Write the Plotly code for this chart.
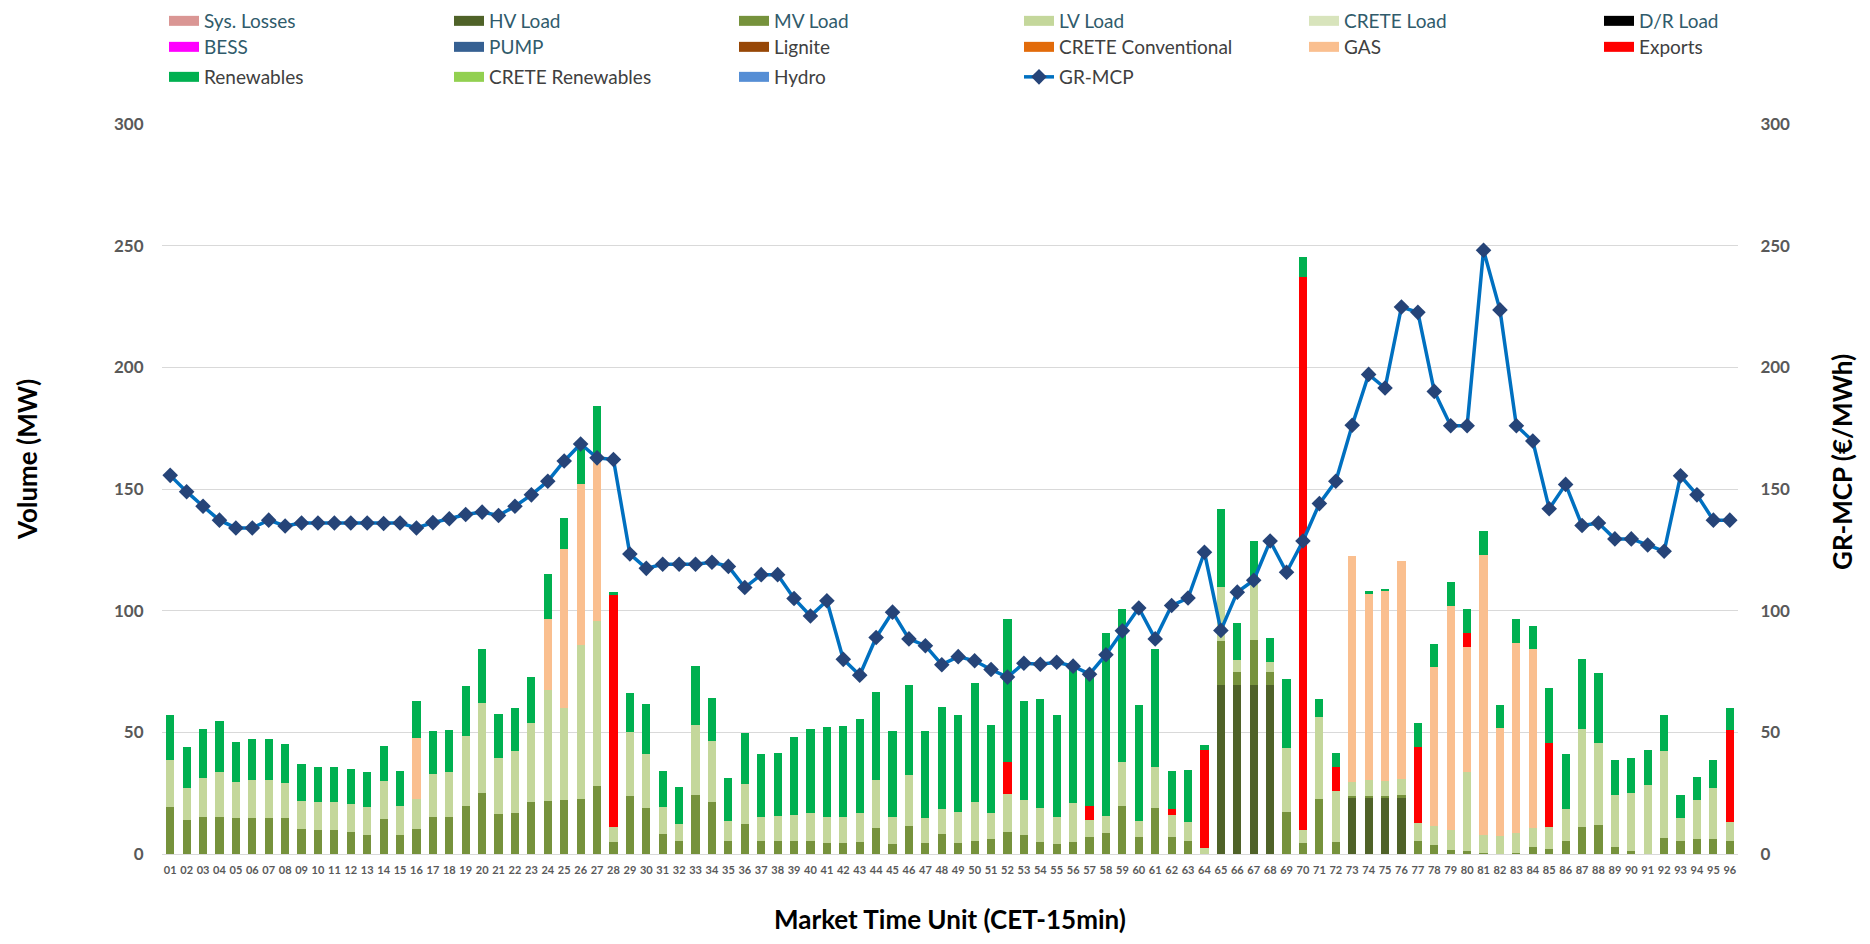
import plotly.graph_objects as go

mtu = [f"{i:02d}" for i in range(1, 97)]

sys_losses = [0.0] * 96
crete_load = [0.0] * 96
dr_load = [0.0] * 96
bess = [0.0] * 96
pump = [0.0] * 96
lignite = [0.0] * 96
crete_conv = [0.0] * 96
crete_ren = [0.0] * 96
hydro = [0.0] * 96

hv_load = [0.0] * 96
for k, v in {65: 69.6, 66: 69.6, 67: 69.6, 68: 69.6, 73: 23.3, 74: 23.3, 75: 23.3, 76: 22.9}.items():
    hv_load[k - 1] = v

mv_load = [19.4, 13.9, 15.3, 15.1, 14.7, 14.7, 14.7, 14.7, 10.2, 10.0,
           10.0, 9.0, 8.0, 14.5, 8.0, 10.4, 15.3, 15.1, 19.6, 25.1,
           16.3, 16.7, 21.4, 21.8, 22.3, 22.7, 28.0, 5.1, 23.9, 19.0,
           8.4, 5.5, 24.1, 21.4, 5.5, 12.5, 5.3, 5.3, 5.3, 5.5,
           4.5, 4.5, 5.1, 10.6, 4.3, 11.4, 4.5, 8.2, 4.5, 5.3,
           6.1, 9.2, 8.0, 5.1, 4.3, 5.1, 6.9, 8.6, 19.8, 7.1,
           19.0, 7.1, 5.5, 0.0, 17.8, 5.1, 18.4, 5.1, 17.4, 4.7,
           22.5, 5.1, 0.6, 0.6, 0.6, 1.4, 5.5, 3.5, 1.8, 1.4,
           0.4, 0.2, 0.6, 2.9, 2.2, 5.5, 11.2, 12.0, 2.9, 1.4,
           0.0, 6.5, 5.3, 6.1, 6.3, 5.5]

lv_load = [19.4, 13.1, 15.9, 18.4, 14.7, 15.9, 15.7, 14.5, 11.4, 11.2,
           11.2, 11.4, 11.4, 15.3, 11.6, 12.3, 17.6, 18.4, 29.0, 36.8,
           23.3, 25.6, 32.3, 45.8, 37.5, 63.3, 67.6, 6.1, 26.3, 22.2,
           11.0, 7.0, 28.8, 25.2, 8.0, 16.1, 9.8, 10.2, 10.6, 11.4,
           10.8, 10.6, 11.8, 20.0, 10.8, 21.1, 10.2, 10.4, 12.7, 15.9,
           10.8, 15.5, 14.3, 13.9, 10.8, 15.9, 7.0, 6.9, 18.0, 6.6,
           16.9, 8.8, 7.8, 2.5, 22.3, 4.9, 24.7, 4.3, 26.1, 5.3,
           33.7, 20.8, 5.7, 6.5, 6.3, 6.5, 7.2, 7.9, 8.0, 32.1,
           7.6, 7.2, 8.2, 7.7, 8.8, 12.9, 40.3, 33.7, 21.4, 23.7,
           28.2, 35.8, 9.6, 16.2, 20.7, 7.6]

gas = [0.0] * 96
for k, v in {16: 24.9, 24: 28.8, 25: 65.6, 26: 65.9, 27: 66.1, 73: 92.7, 74: 76.8,
             75: 78.0, 76: 89.7, 78: 65.4, 79: 92.3, 80: 51.7, 81: 114.9, 82: 44.3,
             83: 77.8, 84: 73.5}.items():
    gas[k - 1] = v

exports = [0.0] * 96
for k, v in {28: 95.4, 52: 13.1, 57: 5.7, 62: 2.5, 64: 40.4, 70: 227.1, 72: 9.8,
             77: 31.4, 80: 5.7, 85: 34.7, 96: 37.7}.items():
    exports[k - 1] = v

renewables = [18.2, 16.9, 20.3, 21.0, 16.8, 16.6, 16.8, 15.9, 15.2, 14.7,
              14.5, 14.5, 14.5, 14.5, 14.5, 15.3, 17.7, 17.6, 20.4, 22.4,
              17.8, 17.7, 19.2, 18.6, 12.8, 16.5, 22.5, 1.2, 16.0, 20.3,
              14.9, 15.1, 24.3, 17.5, 17.7, 21.2, 25.9, 26.0, 32.1, 34.6,
              36.8, 37.4, 38.4, 36.0, 35.5, 36.9, 35.9, 42.0, 40.0, 49.0,
              36.0, 58.8, 40.4, 44.5, 42.1, 56.0, 54.4, 75.4, 62.7, 47.6,
              48.2, 15.7, 21.4, 1.8, 32.0, 15.4, 15.9, 9.8, 28.4, 8.1,
              7.7, 6.0, 0.0, 0.8, 0.8, 0.0, 9.8, 9.4, 9.6, 9.6,
              9.8, 9.4, 9.8, 9.6, 22.5, 22.6, 28.5, 28.8, 14.3, 14.5,
              14.5, 14.7, 9.4, 9.4, 11.6, 9.4]

gr_mcp = [155.6, 148.9, 142.9, 137.2, 134.0, 134.0, 137.2, 134.8, 136.0, 136.0,
          136.0, 136.0, 136.0, 135.8, 136.0, 134.0, 136.2, 137.8, 139.5, 140.5,
          139.1, 142.9, 147.6, 153.2, 161.5, 168.5, 162.8, 162.1, 123.3, 117.4,
          119.1, 119.1, 119.1, 119.9, 118.2, 109.5, 114.8, 114.8, 105.0, 97.8,
          104.1, 80.0, 73.5, 89.0, 99.4, 88.4, 85.6, 77.8, 81.1, 79.4,
          75.8, 72.7, 78.4, 78.0, 78.8, 77.2, 73.9, 81.9, 91.7, 101.1,
          88.4, 102.1, 105.2, 124.0, 91.9, 107.6, 112.5, 128.6, 115.8, 128.6,
          144.0, 153.2, 176.2, 197.1, 191.5, 224.8, 222.6, 190.1, 176.0, 176.0,
          248.1, 223.6, 176.0, 169.7, 141.9, 151.9, 135.0, 136.0, 129.5, 129.5,
          127.0, 124.4, 155.4, 147.6, 137.2, 137.2]

y_ticks = [0, 50, 100, 150, 200, 250, 300]

TEAL = "#305B6B"
GREY = "#404040"
FONT = "Lato"

# the page body has an 8px margin, so figure coords = screen coords - 8
OFF = 8
W, H = 1870 - 2 * OFF, 944 - 2 * OFF
L, R, T, B = 162 - OFF, 1738 - OFF, 124 - OFF, 854 - OFF
COL0, COLSTEP = 164 - OFF, 287
ROWS = {1: 21 - OFF, 2: 47 - OFF, 3: 77 - OFF}

# (name, values, colour, legend text colour, legend id)
series = [
    ("Sys. Losses", sys_losses, "#DA9694", TEAL, "legend"),
    ("HV Load", hv_load, "#4F6228", TEAL, "legend"),
    ("MV Load", mv_load, "#76923C", TEAL, "legend"),
    ("LV Load", lv_load, "#C4D79B", TEAL, "legend"),
    ("CRETE Load", crete_load, "#D8E4BC", TEAL, "legend"),
    ("D/R Load", dr_load, "#000000", TEAL, "legend2"),
    ("BESS", bess, "#FF00FF", TEAL, "legend3"),
    ("PUMP", pump, "#366092", TEAL, "legend3"),
    ("Lignite", lignite, "#974706", GREY, "legend3"),
    ("CRETE Conventional", crete_conv, "#E26B0A", GREY, "legend3"),
    ("GAS", gas, "#FABF8F", GREY, "legend3"),
    ("Exports", exports, "#FF0000", GREY, "legend4"),
    ("Renewables", renewables, "#00B050", GREY, "legend5"),
    ("CRETE Renewables", crete_ren, "#92D050", GREY, "legend5"),
    ("Hydro", hydro, "#558ED5", GREY, "legend5"),
]

fig = go.Figure()
# stacked bars (legend entries drawn by the swatch traces below)
for name, vals, color, tcol, lg in series:
    fig.add_trace(go.Bar(
        x=mtu, y=vals, name=name, showlegend=False,
        marker=dict(color=color, line=dict(width=0)), yaxis="y",
    ))

# legend swatches: wide colour blocks like the original legend
for name, vals, color, tcol, lg in series:
    fig.add_trace(go.Scatter(
        x=[None], y=[None], mode="lines", name=f"<span style='color:{tcol}'>{name}</span>",
        line=dict(color=color, width=14), legend=lg, hoverinfo="skip",
    ))

fig.add_trace(go.Scatter(
    x=mtu, y=gr_mcp, name=f"<span style='color:{GREY}'>GR-MCP</span>",
    mode="lines+markers", yaxis="y2", legend="legend5",
    line=dict(color="#0070C0", width=3.5),
    marker=dict(symbol="diamond", size=12, color="#264478"),
))


def leg(col, row):
    return dict(orientation="h", xref="container", yref="container",
                x=(COL0 + col * COLSTEP) / W, xanchor="left",
                y=1 - ROWS[row] / H, yanchor="middle",
                entrywidth=240, entrywidthmode="pixels",
                font=dict(family=FONT, size=19, color=GREY),
                bgcolor="rgba(0,0,0,0)", itemclick=False, traceorder="normal")


TITLE_FONT = dict(family=FONT, size=26, color="#000000", weight="bold")

fig.update_layout(
    width=W, height=H,
    barmode="stack", bargap=0.5,
    plot_bgcolor="white", paper_bgcolor="white",
    margin=dict(l=L, r=W - R, t=T, b=H - B, pad=0, autoexpand=False),
    font=dict(family=FONT, color="#595959"),
    legend=leg(0, 1), legend2=leg(5, 1), legend3=leg(0, 2), legend4=leg(5, 2),
    legend5=leg(0, 3),
    xaxis=dict(type="category", range=[-0.5, len(mtu) - 0.5],
               showgrid=False, zeroline=False,
               showline=True, linecolor="#D9D9D9", linewidth=1,
               ticks="outside", ticklen=6, tickcolor="rgba(0,0,0,0)",
               tickfont=dict(family=FONT, size=11, color="#595959", weight="bold"),
               tickangle=0),
    yaxis=dict(range=[0, 300], tickvals=y_ticks,
               showgrid=True, gridcolor="#D9D9D9", gridwidth=1, zeroline=False,
               ticks="outside", ticklen=14, tickcolor="rgba(0,0,0,0)",
               tickfont=dict(family=FONT, size=17, color="#595959", weight="bold")),
    yaxis2=dict(range=[0, 300], tickvals=y_ticks,
                overlaying="y", side="right", showgrid=False, zeroline=False,
                ticks="outside", ticklen=18, tickcolor="rgba(0,0,0,0)",
                tickfont=dict(family=FONT, size=17, color="#595959", weight="bold")),
    annotations=[
        dict(text="Volume (MW)", xref="paper", yref="paper",
             x=(27 - OFF - L) / (R - L), y=(B - (460 - OFF)) / (B - T), textangle=-90,
             xanchor="center", yanchor="middle", showarrow=False, font=TITLE_FONT),
        dict(text="GR-MCP (€/MWh)", xref="paper", yref="paper",
             x=(1842 - OFF - L) / (R - L), y=(B - (462 - OFF)) / (B - T), textangle=-90,
             xanchor="center", yanchor="middle", showarrow=False, font=TITLE_FONT),
        dict(text="Market Time Unit (CET-15min)", xref="paper", yref="paper",
             x=(950 - OFF - L) / (R - L), y=(B - (919 - OFF)) / (B - T),
             xanchor="center", yanchor="middle", showarrow=False, font=TITLE_FONT),
    ],
)

fig.write_html("out.html")
